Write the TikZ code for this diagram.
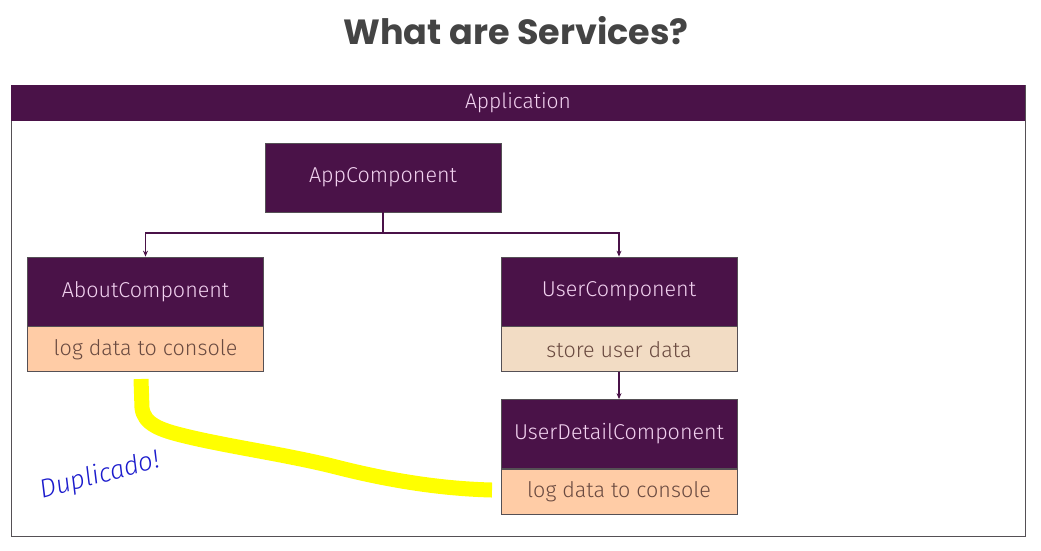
\documentclass[tikz,border=0pt]{standalone}
\usepackage{fontspec}
\setmainfont{Fira Sans Light}
\newfontfamily\titlefont{Poppins Bold}
\definecolor{plum}{HTML}{4A1248}
\definecolor{plumtext}{HTML}{F2D2F0}
\definecolor{peach}{HTML}{FFCCA6}
\definecolor{beige}{HTML}{F2DCC4}
\definecolor{browntext}{HTML}{6A4A40}
\definecolor{titlegray}{HTML}{444444}
\definecolor{frame}{HTML}{555055}
\definecolor{hiyellow}{HTML}{FFFF00}
\definecolor{inkblue}{HTML}{1A1ACC}
\tikzset{
  comp/.style={fill=plum, draw=frame, line width=0.8pt, text=plumtext, font=\fontsize{21.5}{24}\selectfont, minimum width=236pt, minimum height=69pt, inner sep=0pt},
  task/.style={draw=frame, line width=0.8pt, text=browntext, font=\fontsize{21.5}{24}\selectfont, minimum width=236pt, minimum height=45pt, inner sep=0pt},
  conn/.style={draw=plum, line width=1.2pt, -{Stealth[length=6pt,width=5pt]}},
}
\usetikzlibrary{arrows.meta}
\begin{document}
\begin{tikzpicture}[x=1pt,y=-1pt]
\useasboundingbox (0,0) rectangle (1041,550);
% title
\node[font=\titlefont\fontsize{35}{40}\selectfont, text=titlegray] (title) at (516,31) {What are Services?};
% application frame
\draw[frame, line width=0.8pt] (11,85) rectangle (1025,536);
\fill[plum] (11,85) rectangle (1025,121);
\node[text=plumtext, font=\fontsize{21}{24}\selectfont] (app) at (518,103) {Application};
% components
\node[comp] (appc) at (383,177.5) {AppComponent};
\node[comp] (about) at (145.5,291.5) {AboutComponent};
\node[task, fill=peach, anchor=north] (aboutlog) at (about.south) {log data to console};
\node[comp] (user) at (619,291.5) {UserComponent};
\node[task, fill=beige, anchor=north] (userstore) at (user.south) {store user data};
\node[comp] (detail) at (619,434) {UserDetailComponent};
\node[task, fill=peach, anchor=north] (detaillog) at (detail.south) {log data to console};
% connectors
\coordinate (split) at (383,233);
\draw[plum, line width=1.2pt] (appc.south) -- (split);
\draw[conn] (split) -| (about.north);
\draw[conn] (split) -| (user.north);
\draw[conn] (userstore.south) -- (detail.north);
% highlighter stroke
\draw[hiyellow, line width=15pt, line join=round]
  (141,379) -- (142,408) .. controls (144,424) and (160,430) .. (185,436)
  .. controls (230,447) and (290,455) .. (340,468)
  .. controls (400,483) and (450,489) .. (492,490);
% handwritten note
\node[text=inkblue, rotate=15, font=\fontsize{26}{28}\selectfont\itshape] (note) at (100,476) {Duplicado!};
\end{tikzpicture}
\end{document}
